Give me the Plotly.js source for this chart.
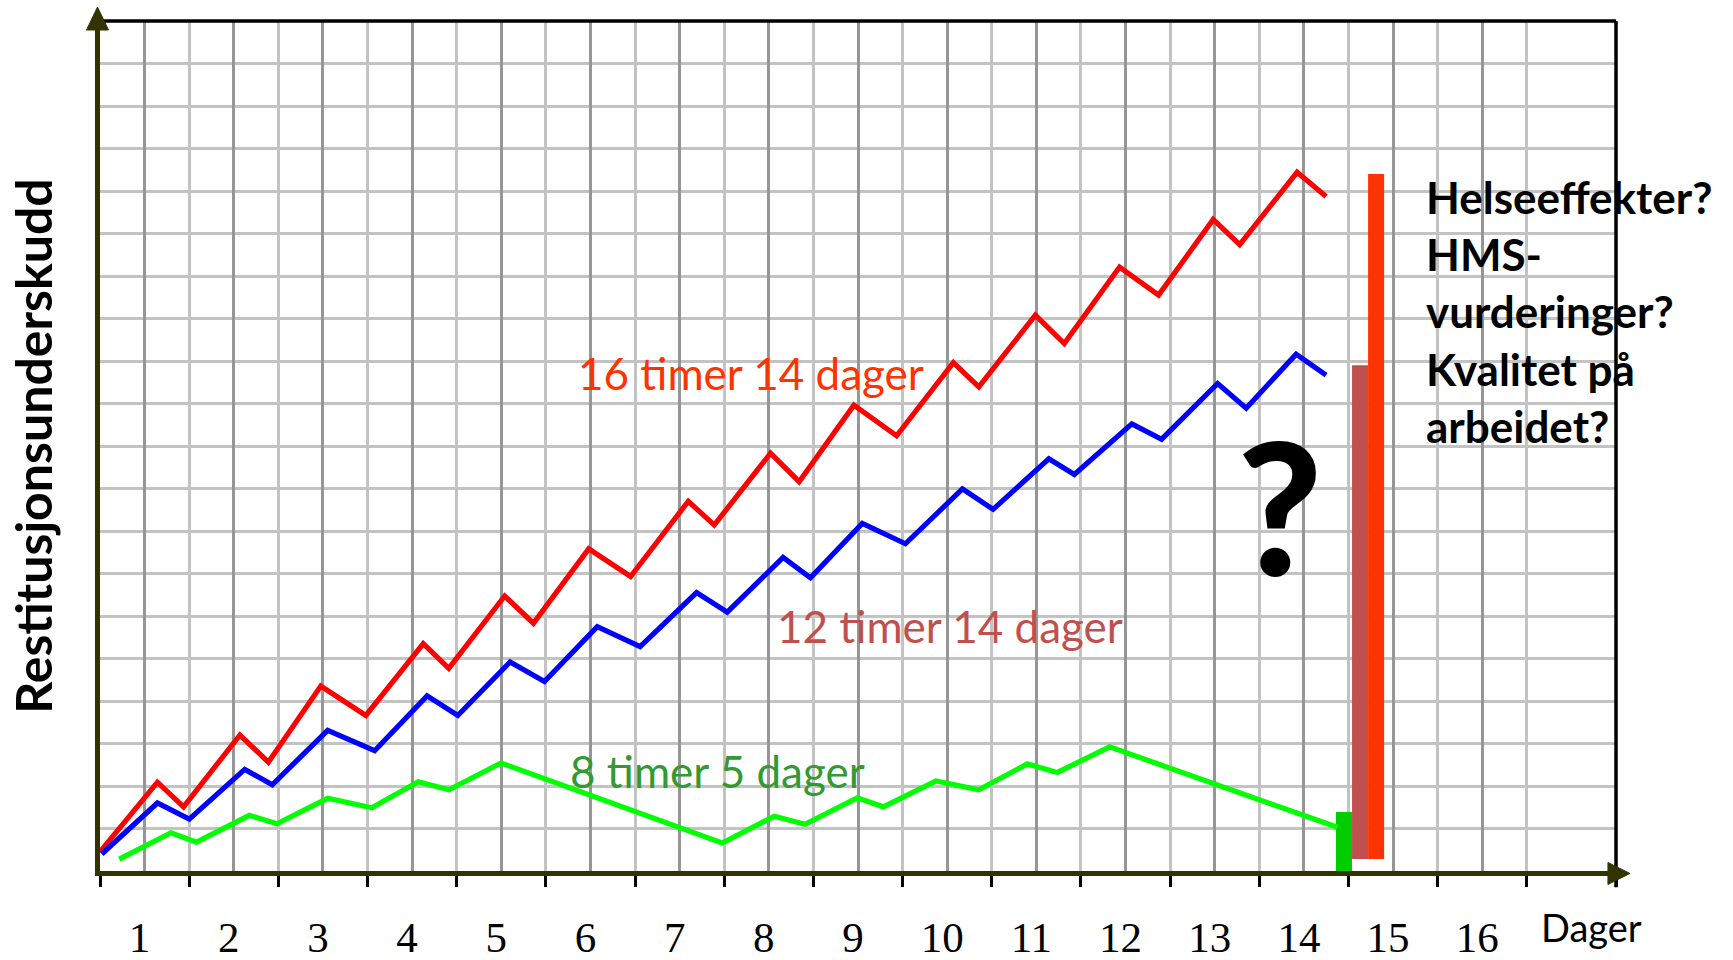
<!DOCTYPE html>
<html>
<head>
<meta charset="utf-8">
<script src="https://cdn.plot.ly/plotly-3.0.1.min.js"></script>
<style>
  html, body { margin: 0; padding: 0; background: #ffffff; }
  #chart { width: 1733px; height: 960px; }
</style>
</head>
<body>
<div id="chart"></div>
<script>
// ---- data ----
const dayValues = [1, 2, 3, 4, 5, 6, 7, 8, 9, 10, 11, 12, 13, 14, 15, 16];
const dayLabels = ['1', '2', '3', '4', '5', '6', '7', '8', '9', '10', '11', '12', '13', '14', '15', '16'];
const dayBoundaries = [0.5, 1.5, 2.5, 3.5, 4.5, 5.5, 6.5, 7.5, 8.5, 9.5, 10.5, 11.5, 12.5, 13.5, 14.5, 15.5, 16.5, 17.5];

// 16 timer 14 dager (red)
const redX = [0.5, 1.144, 1.437, 2.069, 2.388, 2.976, 3.481, 4.125, 4.411, 5.038, 5.360, 5.980, 6.450, 7.097, 7.388,
              8.019, 8.340, 8.954, 9.433, 10.069, 10.355, 10.989, 11.313, 11.933, 12.371, 12.983, 13.280, 13.924, 14.249];
const redY = [0.45, 2.09, 1.51, 3.20, 2.56, 4.35, 3.66, 5.35, 4.77, 6.47, 5.83, 7.58, 6.93, 8.70, 8.14,
              9.83, 9.16, 10.96, 10.24, 11.96, 11.39, 13.08, 12.41, 14.21, 13.55, 15.33, 14.74, 16.44, 15.87];

// 12 timer 14 dager (blue)
const blueX = [0.52, 1.144, 1.501, 2.123, 2.432, 3.053, 3.580, 4.168, 4.512, 5.099, 5.484, 6.076, 6.557, 7.190, 7.534,
               8.160, 8.467, 9.048, 9.532, 10.171, 10.515, 11.140, 11.426, 12.071, 12.405, 13.033, 13.353, 13.913, 14.249];
const blueY = [0.40, 1.60, 1.22, 2.39, 2.03, 3.31, 2.83, 4.12, 3.66, 4.92, 4.46, 5.75, 5.28, 6.55, 6.09,
               7.38, 6.90, 8.18, 7.70, 8.99, 8.51, 9.70, 9.33, 10.52, 10.16, 11.47, 10.89, 12.16, 11.67];

// 8 timer 5 dager (green)
const greenX = [0.716, 1.296, 1.582, 2.174, 2.483, 3.053, 3.547, 4.069, 4.413, 4.996, 7.476,
                8.062, 8.405, 8.992, 9.283, 9.875, 10.355, 10.899, 11.235, 11.822, 14.376];
const greenY = [0.28, 0.90, 0.68, 1.31, 1.11, 1.71, 1.49, 2.10, 1.91, 2.54, 0.66,
                1.29, 1.10, 1.72, 1.51, 2.12, 1.91, 2.52, 2.32, 2.92, 1.03];

// end-of-period bars (8 t / 12 t / 16 t)
const barX = [14.45, 14.63, 14.81];
const barBase = [-0.12, 0.28, 0.28];
const barTop = [1.39, 11.90, 16.40];

const seriesNames = ['16 timer 14 dager', '12 timer 14 dager', '8 timer 5 dager'];
const yTitle = 'Restitusjonsunderskudd';
const xTitle = 'Dager';
const questions = ['Helseeffekter?', 'HMS-', 'vurderinger?', 'Kvalitet på', 'arbeidet?'];

// ---- traces ----
const lineW = 5.2;
const traces = [
  { type: 'scatter', mode: 'lines', x: redX, y: redY, name: seriesNames[0],
    line: { color: '#FF0000', width: lineW }, hoverinfo: 'skip' },
  { type: 'scatter', mode: 'lines', x: blueX, y: blueY, name: seriesNames[1],
    line: { color: '#0000FF', width: lineW }, hoverinfo: 'skip' },
  { type: 'scatter', mode: 'lines', x: greenX, y: greenY, name: seriesNames[2],
    line: { color: '#00FF00', width: lineW }, hoverinfo: 'skip' },
  { type: 'bar', x: [barX[0]], base: [barBase[0]], y: [barTop[0] - barBase[0]], width: [0.18],
    marker: { color: '#00CC00', line: { width: 0 } }, hoverinfo: 'skip', name: seriesNames[2] },
  { type: 'bar', x: [barX[1]], base: [barBase[1]], y: [barTop[1] - barBase[1]], width: [0.18],
    marker: { color: '#C0504D', line: { width: 0 } }, hoverinfo: 'skip', name: seriesNames[1] },
  { type: 'bar', x: [barX[2]], base: [barBase[2]], y: [barTop[2] - barBase[2]], width: [0.18],
    marker: { color: '#FF3300', line: { width: 0 } }, hoverinfo: 'skip', name: seriesNames[0] },
  // invisible trace that carries the labelled day axis
  { type: 'scatter', mode: 'none', x: dayValues, y: dayValues.map(() => null), xaxis: 'x2', yaxis: 'y',
    showlegend: false, hoverinfo: 'skip' }
];

const sans = 'Lato, "Open Sans", sans-serif';
const axisCol = '#333300';

const layout = {
  width: 1733, height: 960,
  margin: { l: 100, r: 117, t: 21, b: 89, pad: 0 },
  paper_bgcolor: '#ffffff', plot_bgcolor: '#ffffff',
  showlegend: false,
  barmode: 'overlay',
  xaxis: {
    range: [0.5, 17.5], fixedrange: true,
    tickmode: 'array', tickvals: dayBoundaries, showticklabels: false,
    ticks: 'outside', ticklen: 11, tickwidth: 3, tickcolor: '#000000',
    showgrid: true, gridcolor: '#c3c3c3', gridwidth: 3,
    zeroline: false, showline: true, linecolor: axisCol, linewidth: 5
  },
  xaxis2: {
    overlaying: 'x', matches: 'x', side: 'bottom', anchor: 'y',
    range: [0.5, 17.5],
    tickmode: 'array', tickvals: dayValues, ticktext: dayLabels,
    ticks: '', showline: false, zeroline: false,
    showgrid: true, gridcolor: '#969696', gridwidth: 3,
    tickfont: { family: '"Liberation Serif", "Times New Roman", serif', size: 43, color: '#000000' },
    ticklabelstandoff: 37, ticklabelshift: -5
  },
  yaxis: {
    range: [0, 20], fixedrange: true,
    tickmode: 'linear', tick0: 0, dtick: 1, showticklabels: false, ticks: '',
    showgrid: true, gridcolor: '#c3c3c3', gridwidth: 3,
    zeroline: false, showline: true, linecolor: axisCol, linewidth: 5,
    title: { text: '<b>' + yTitle + '</b>', font: { family: sans, size: 50, color: '#000000' }, standoff: 28 }
  },
  shapes: [
    // top border
    { type: 'line', xref: 'paper', yref: 'paper', x0: -0.003, x1: 1.0, y0: 1.0, y1: 1.0,
      line: { color: '#000000', width: 3.5 }, layer: 'above' },
    // right border (extends to the last tick)
    { type: 'line', xref: 'paper', yref: 'paper', x0: 1.0, x1: 1.0, y0: 1.0, y1: -0.019,
      line: { color: '#000000', width: 3.5 }, layer: 'above' },
    // y-axis arrow head
    { type: 'path', xref: 'paper', yref: 'paper',
      path: 'M -0.00165 1.0165 L -0.0089 0.9894 L 0.0056 0.9894 Z',
      fillcolor: axisCol, line: { color: axisCol, width: 1 }, layer: 'above' },
    // x-axis arrow head
    { type: 'path', xref: 'paper', yref: 'paper',
      path: 'M 1.0092 -0.0029 L 0.9947 0.0100 L 0.9947 -0.0159 Z',
      fillcolor: axisCol, line: { color: axisCol, width: 1 }, layer: 'above' }
  ],
  annotations: [
    { xref: 'x', yref: 'y', x: 7.80, y: 11.72, text: seriesNames[0], showarrow: false,
      xanchor: 'center', yanchor: 'middle', font: { family: sans, size: 44, color: '#FF3300' } },
    { xref: 'x', yref: 'y', x: 10.03, y: 5.76, text: seriesNames[1], showarrow: false,
      xanchor: 'center', yanchor: 'middle', font: { family: sans, size: 44, color: '#C0504D' } },
    { xref: 'x', yref: 'y', x: 7.42, y: 2.36, text: seriesNames[2], showarrow: false,
      xanchor: 'center', yanchor: 'middle', font: { family: sans, size: 44, color: '#339933' } },
    { xref: 'x', yref: 'y', x: 13.73, y: 8.62, text: '?', showarrow: false,
      xanchor: 'center', yanchor: 'middle', font: { family: sans, size: 184, color: '#000000', weight: 900 } },
    { xref: 'x', yref: 'y', x: 15.35, y: 16.52, text: '<b>' + questions.join('<br>') + '</b>', showarrow: false,
      xanchor: 'left', yanchor: 'top', align: 'left', font: { family: sans, size: 44, color: '#000000' } },
    { xref: 'x', yref: 'paper', x: 17.22, y: -0.066, text: xTitle, showarrow: false,
      xanchor: 'center', yanchor: 'middle', font: { family: sans, size: 38, color: '#000000' } }
  ]
};

Plotly.newPlot('chart', traces, layout, { staticPlot: true, displayModeBar: false });
</script>
</body>
</html>
